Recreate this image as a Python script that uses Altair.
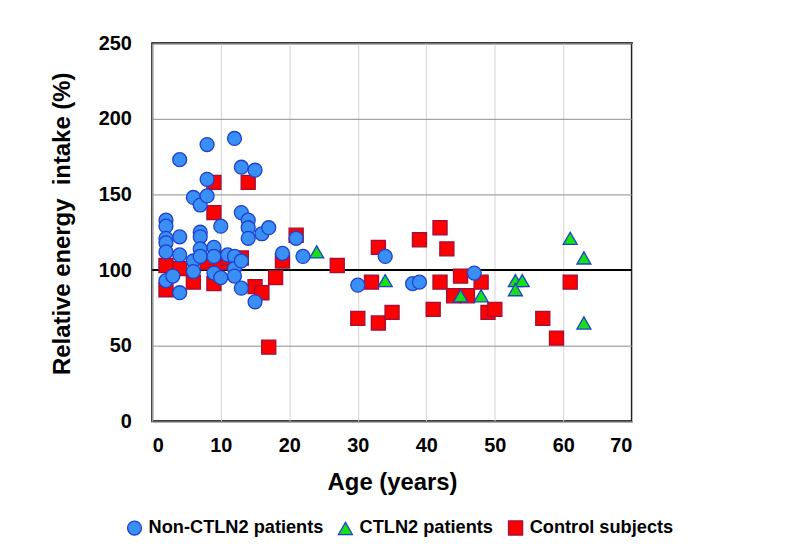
import altair as alt
import pandas as pd

# Non-CTLN2 patients (blue circles)
non_age = [2, 2, 2, 2, 2, 2, 3, 4, 4, 4, 4, 6, 6, 6, 7, 7, 7, 7, 7, 8, 8, 8,
           9, 9, 9, 10, 10, 11, 12, 12, 12, 12, 13, 13, 13, 13, 14, 14, 14,
           15, 15, 16, 17, 19, 21, 22, 30, 34, 38, 39, 47]
non_val = [133, 129, 121, 118, 112, 93, 96, 173, 122, 110, 85, 148, 106, 99,
           143, 125, 122, 114, 109, 183, 160, 149, 115, 109, 98, 129, 95, 110,
           187, 109, 101, 96, 168, 138, 106, 88, 133, 128, 121, 166, 79, 124,
           128, 111, 121, 109, 90, 109, 91, 92, 98]

# CTLN2 patients (green triangles)
ctln_age = [24, 34, 45, 48, 53, 54, 53, 61, 63, 63]
ctln_val = [112, 93, 83, 83, 93, 93, 87, 121, 108, 65]

# Control subjects (red squares)
ctrl_age = [2, 2, 4, 6, 8, 9, 9, 9, 10, 11, 13, 14, 15, 16, 17, 18, 19, 21,
            27, 30, 32, 33, 33, 35, 39, 41, 42, 42, 43, 44, 45, 46, 48, 49,
            50, 57, 59, 61]
ctrl_val = [103, 87, 101, 92, 105, 158, 138, 91, 105, 108, 108, 158, 89, 85,
            49, 95, 106, 123, 103, 68, 92, 115, 65, 72, 120, 74, 128, 92, 114,
            83, 96, 83, 92, 72, 74, 68, 55, 92]

groups = ["Non-CTLN2 patients", "CTLN2 patients", "Control subjects"]

df = pd.concat([
    pd.DataFrame({"age": ctrl_age, "val": ctrl_val, "group": groups[2]}),
    pd.DataFrame({"age": ctln_age, "val": ctln_val, "group": groups[1]}),
    pd.DataFrame({"age": non_age, "val": non_val, "group": groups[0]}),
], ignore_index=True)

FONT = "Liberation Sans"

x_scale = alt.Scale(domain=[0, 70], nice=False, zero=False)
y_scale = alt.Scale(domain=[0, 250], nice=False)

points = alt.Chart(df).mark_point(filled=True, strokeWidth=1.3, opacity=1).encode(
    x=alt.X("age:Q", scale=x_scale,
            axis=alt.Axis(values=[0, 10, 20, 30, 40, 50, 60, 70], title="Age (years)",
                          gridColor="#d4d4d4", gridWidth=1)),
    y=alt.Y("val:Q", scale=y_scale,
            axis=alt.Axis(values=[0, 50, 100, 150, 200, 250],
                          title="Relative energy\u00a0 intake (%)", titleY=181,
                          gridColor="#8c8c8c", gridWidth=1)),
    fill=alt.Fill("group:N", scale=alt.Scale(domain=groups,
                  range=["#3a8ff5", "#14e014", "#ff0000"]), title=None),
    stroke=alt.Stroke("group:N", scale=alt.Scale(domain=groups,
                      range=["#1f3fd0", "#1f3fd0", "#a0103a"]), title=None),
    shape=alt.Shape("group:N", scale=alt.Scale(domain=groups,
                    range=["circle", "triangle-up", "square"]), title=None),
    size=alt.Size("group:N", scale=alt.Scale(domain=groups,
                  range=[196, 200, 144]), title=None),
)

ref = alt.Chart(pd.DataFrame({"y": [100]})).mark_rule(color="black", strokeWidth=2).encode(
    y=alt.Y("y:Q", scale=y_scale)
)

chart = alt.layer(ref, points).properties(
    width=482, height=380,
    autosize=alt.AutoSizeParams(type="none"),
    padding={"left": 145, "top": 34, "right": 170, "bottom": 127},
).configure_view(
    stroke="black", strokeWidth=2
).configure_axis(
    labelFont=FONT, labelFontWeight="bold", labelFontSize=20, labelColor="black",
    titleFont=FONT, titleFontWeight="bold", titleFontSize=24, titleColor="black",
    domain=False, ticks=False,
).configure_axisX(
    labelPadding=14, titlePadding=16,
).configure_axisY(
    labelPadding=21, titlePadding=24,
).configure_legend(
    orient="none", direction="horizontal", legendX=-27, legendY=478,
    labelFont=FONT, labelFontWeight="bold", labelFontSize=18.3, labelColor="black",
    labelLimit=0, symbolStrokeWidth=1.3, columnPadding=12, labelOffset=5, padding=0,
)

chart.save("out.html", embed_options={"renderer": "svg", "actions": False})
